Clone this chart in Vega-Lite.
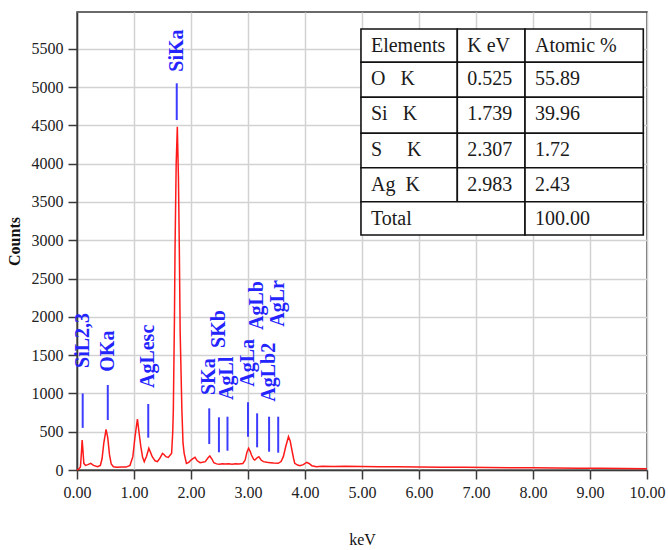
{
  "$schema": "https://vega.github.io/schema/vega-lite/v6.json",
  "width": 570,
  "height": 458,
  "autosize": {"type": "none"},
  "padding": {"left": 77, "top": 12, "right": 21, "bottom": 80},
  "background": "white",
  "config": {
    "font": "Liberation Serif",
    "view": {"stroke": "#3a3a3a", "strokeWidth": 1.5},
    "axis": {
      "grid": true, "gridColor": "#d2d2d2", "gridWidth": 1.5,
      "domainColor": "#3a3a3a", "domainWidth": 1.5,
      "tickColor": "#3a3a3a", "tickWidth": 1.5, "tickSize": 9,
      "labelFont": "Liberation Serif", "labelFontSize": 16, "labelColor": "#222222", "labelPadding": 5,
      "labelFlush": false, "labelOverlap": false,
      "titleFont": "Liberation Serif", "titleFontSize": 16, "titleColor": "#111111"
    },
    "axisX": {"titleFontWeight": "normal", "titlePadding": 31},
    "axisY": {"titleFontWeight": "bold", "titlePadding": 9}
  },
  "datasets": {
    "spectrum": [
      {"keV": 0.00, "counts": 0}, {"keV": 0.03, "counts": 10}, {"keV": 0.06, "counts": 40},
      {"keV": 0.08, "counts": 250}, {"keV": 0.09, "counts": 391}, {"keV": 0.10, "counts": 300},
      {"keV": 0.12, "counts": 87}, {"keV": 0.15, "counts": 60}, {"keV": 0.19, "counts": 70},
      {"keV": 0.24, "counts": 87}, {"keV": 0.29, "counts": 60}, {"keV": 0.36, "counts": 43},
      {"keV": 0.41, "counts": 60}, {"keV": 0.44, "counts": 150}, {"keV": 0.47, "counts": 350},
      {"keV": 0.51, "counts": 531}, {"keV": 0.54, "counts": 420}, {"keV": 0.57, "counts": 200},
      {"keV": 0.60, "counts": 80}, {"keV": 0.64, "counts": 43}, {"keV": 0.70, "counts": 35},
      {"keV": 0.78, "counts": 40}, {"keV": 0.86, "counts": 38}, {"keV": 0.93, "counts": 61},
      {"keV": 0.98, "counts": 174}, {"keV": 1.02, "counts": 450}, {"keV": 1.06, "counts": 665},
      {"keV": 1.09, "counts": 480}, {"keV": 1.12, "counts": 304}, {"keV": 1.15, "counts": 170},
      {"keV": 1.18, "counts": 109}, {"keV": 1.22, "counts": 180}, {"keV": 1.26, "counts": 283},
      {"keV": 1.29, "counts": 230}, {"keV": 1.32, "counts": 174}, {"keV": 1.37, "counts": 120},
      {"keV": 1.41, "counts": 109}, {"keV": 1.45, "counts": 150}, {"keV": 1.50, "counts": 218},
      {"keV": 1.53, "counts": 200}, {"keV": 1.56, "counts": 174}, {"keV": 1.60, "counts": 165},
      {"keV": 1.64, "counts": 200}, {"keV": 1.66, "counts": 218}, {"keV": 1.68, "counts": 500},
      {"keV": 1.69, "counts": 783}, {"keV": 1.71, "counts": 2000}, {"keV": 1.72, "counts": 2900},
      {"keV": 1.74, "counts": 4000}, {"keV": 1.76, "counts": 4480}, {"keV": 1.78, "counts": 3800},
      {"keV": 1.795, "counts": 2900}, {"keV": 1.81, "counts": 1800}, {"keV": 1.84, "counts": 783},
      {"keV": 1.86, "counts": 350}, {"keV": 1.88, "counts": 218}, {"keV": 1.92, "counts": 87},
      {"keV": 1.96, "counts": 100}, {"keV": 2.00, "counts": 130}, {"keV": 2.04, "counts": 152},
      {"keV": 2.07, "counts": 165}, {"keV": 2.11, "counts": 120}, {"keV": 2.16, "counts": 95},
      {"keV": 2.20, "counts": 100}, {"keV": 2.25, "counts": 109}, {"keV": 2.30, "counts": 160},
      {"keV": 2.33, "counts": 183}, {"keV": 2.37, "counts": 140}, {"keV": 2.40, "counts": 95},
      {"keV": 2.45, "counts": 80}, {"keV": 2.50, "counts": 75}, {"keV": 2.55, "counts": 82},
      {"keV": 2.60, "counts": 78}, {"keV": 2.66, "counts": 80}, {"keV": 2.72, "counts": 76},
      {"keV": 2.78, "counts": 82}, {"keV": 2.84, "counts": 78}, {"keV": 2.91, "counts": 85},
      {"keV": 2.95, "counts": 130}, {"keV": 2.98, "counts": 230}, {"keV": 3.01, "counts": 283},
      {"keV": 3.04, "counts": 240}, {"keV": 3.06, "counts": 196}, {"keV": 3.10, "counts": 140},
      {"keV": 3.12, "counts": 130}, {"keV": 3.16, "counts": 160}, {"keV": 3.19, "counts": 174},
      {"keV": 3.23, "counts": 130}, {"keV": 3.27, "counts": 109}, {"keV": 3.33, "counts": 100},
      {"keV": 3.39, "counts": 95}, {"keV": 3.45, "counts": 90}, {"keV": 3.53, "counts": 87},
      {"keV": 3.58, "counts": 110}, {"keV": 3.62, "counts": 174}, {"keV": 3.66, "counts": 300},
      {"keV": 3.71, "counts": 435}, {"keV": 3.74, "counts": 380}, {"keV": 3.77, "counts": 261},
      {"keV": 3.80, "counts": 150}, {"keV": 3.82, "counts": 87}, {"keV": 3.87, "counts": 65},
      {"keV": 3.91, "counts": 56}, {"keV": 3.97, "counts": 70}, {"keV": 4.03, "counts": 100},
      {"keV": 4.07, "counts": 85}, {"keV": 4.12, "counts": 56}, {"keV": 4.20, "counts": 43},
      {"keV": 4.30, "counts": 48}, {"keV": 4.50, "counts": 45}, {"keV": 4.70, "counts": 50},
      {"keV": 5.00, "counts": 47}, {"keV": 5.30, "counts": 44}, {"keV": 5.60, "counts": 42},
      {"keV": 6.00, "counts": 40}, {"keV": 6.40, "counts": 37}, {"keV": 6.80, "counts": 36},
      {"keV": 7.20, "counts": 34}, {"keV": 7.60, "counts": 30}, {"keV": 8.00, "counts": 28},
      {"keV": 8.40, "counts": 27}, {"keV": 8.80, "counts": 24}, {"keV": 9.20, "counts": 22},
      {"keV": 9.60, "counts": 20}, {"keV": 10.00, "counts": 17}
    ],
    "markers": [
      {"name": "SiL2,3", "keV": 0.10, "low": 550, "high": 1000, "label": 1332},
      {"name": "OKa", "keV": 0.54, "low": 653, "high": 1110, "label": 1283},
      {"name": "AgLesc", "keV": 1.25, "low": 422, "high": 862, "label": 1070},
      {"name": "SiKa", "keV": 1.75, "low": 4569, "high": 5049, "label": 5200},
      {"name": "SKa", "keV": 2.32, "low": 339, "high": 805, "label": 979},
      {"name": "SKb", "keV": 2.49, "low": 231, "high": 688, "label": 1593},
      {"name": "AgLl", "keV": 2.64, "low": 252, "high": 696, "label": 914},
      {"name": "AgLa", "keV": 3.0, "low": 435, "high": 884, "label": 1088},
      {"name": "AgLb", "keV": 3.16, "low": 296, "high": 740, "label": 1828},
      {"name": "AgLb2", "keV": 3.37, "low": 239, "high": 696, "label": 892},
      {"name": "AgLr", "keV": 3.53, "low": 226, "high": 696, "label": 1871}
    ],
    "table": [
      {"text": "Elements", "x1": 4.982, "x2": 6.672, "top": 5758, "bottom": 5323},
      {"text": "K eV", "x1": 6.672, "x2": 7.86, "top": 5758, "bottom": 5323},
      {"text": "Atomic %", "x1": 7.86, "x2": 9.935, "top": 5758, "bottom": 5323},
      {"text": "O\u00a0\u00a0\u00a0K", "x1": 4.982, "x2": 6.672, "top": 5323, "bottom": 4866},
      {"text": "0.525", "x1": 6.672, "x2": 7.86, "top": 5323, "bottom": 4866},
      {"text": "55.89", "x1": 7.86, "x2": 9.935, "top": 5323, "bottom": 4866},
      {"text": "Si\u00a0\u00a0\u00a0K", "x1": 4.982, "x2": 6.672, "top": 4866, "bottom": 4396},
      {"text": "1.739", "x1": 6.672, "x2": 7.86, "top": 4866, "bottom": 4396},
      {"text": "39.96", "x1": 7.86, "x2": 9.935, "top": 4866, "bottom": 4396},
      {"text": "S\u00a0\u00a0\u00a0\u00a0\u00a0K", "x1": 4.982, "x2": 6.672, "top": 4396, "bottom": 3947},
      {"text": "2.307", "x1": 6.672, "x2": 7.86, "top": 4396, "bottom": 3947},
      {"text": "1.72", "x1": 7.86, "x2": 9.935, "top": 4396, "bottom": 3947},
      {"text": "Ag\u00a0\u00a0K", "x1": 4.982, "x2": 6.672, "top": 3947, "bottom": 3503},
      {"text": "2.983", "x1": 6.672, "x2": 7.86, "top": 3947, "bottom": 3503},
      {"text": "2.43", "x1": 7.86, "x2": 9.935, "top": 3947, "bottom": 3503},
      {"text": "Total", "x1": 4.982, "x2": 7.86, "top": 3503, "bottom": 3068},
      {"text": "100.00", "x1": 7.86, "x2": 9.935, "top": 3503, "bottom": 3068}
    ]
  },
  "layer": [
    {
      "data": {"name": "spectrum"},
      "mark": {"type": "line", "color": "#ff1a1a", "strokeWidth": 1.5, "interpolate": "linear"},
      "encoding": {
        "x": {
          "field": "keV", "type": "quantitative", "title": "keV",
          "scale": {"domain": [0, 10], "nice": false, "zero": false},
          "axis": {"values": [0, 1, 2, 3, 4, 5, 6, 7, 8, 9, 10], "format": ".2f"}
        },
        "y": {
          "field": "counts", "type": "quantitative", "title": "Counts",
          "scale": {"domain": [0, 5980], "nice": false, "zero": true},
          "axis": {"values": [0, 500, 1000, 1500, 2000, 2500, 3000, 3500, 4000, 4500, 5000, 5500], "format": "d"}
        }
      }
    },
    {
      "data": {"name": "markers"},
      "mark": {"type": "rule", "color": "#3d3dff", "strokeWidth": 2},
      "encoding": {
        "x": {"field": "keV", "type": "quantitative", "title": "keV"},
        "y": {"field": "low", "type": "quantitative", "title": "Counts"},
        "y2": {"field": "high"}
      }
    },
    {
      "data": {"name": "markers"},
      "mark": {"type": "text", "color": "#2424ff", "angle": 270, "align": "left", "baseline": "middle", "font": "Liberation Serif", "fontWeight": "bold", "fontSize": 20},
      "encoding": {
        "x": {"field": "keV", "type": "quantitative", "title": "keV"},
        "y": {"field": "label", "type": "quantitative", "title": "Counts"},
        "text": {"field": "name"}
      }
    },
    {
      "data": {"name": "table"},
      "mark": {"type": "rect", "fill": "white", "stroke": "#111111", "strokeWidth": 1.6},
      "encoding": {
        "x": {"field": "x1", "type": "quantitative", "title": "keV"},
        "x2": {"field": "x2"},
        "y": {"field": "top", "type": "quantitative", "title": "Counts"},
        "y2": {"field": "bottom"}
      }
    },
    {
      "data": {"name": "table"},
      "mark": {"type": "text", "align": "left", "baseline": "middle", "dx": 10, "dy": 17, "font": "Liberation Serif", "fontSize": 20, "color": "#1a1a1a"},
      "encoding": {
        "x": {"field": "x1", "type": "quantitative", "title": "keV"},
        "y": {"field": "top", "type": "quantitative", "title": "Counts"},
        "text": {"field": "text"}
      }
    }
  ]
}
